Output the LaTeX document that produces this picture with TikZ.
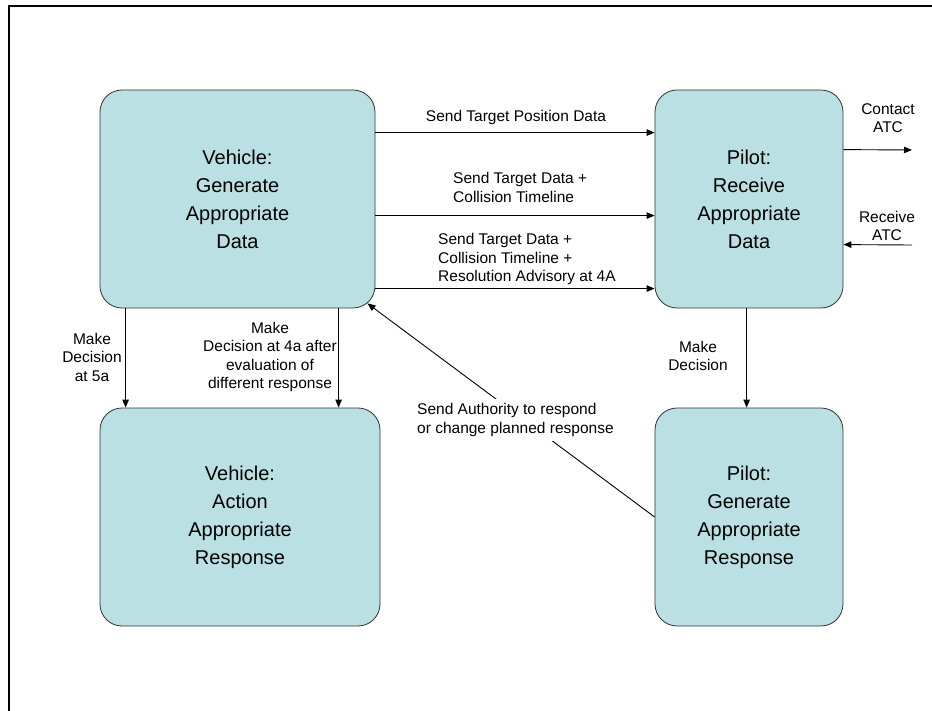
\documentclass[tikz,border=0pt]{standalone}
\usepackage{fontspec}
\setmainfont{Liberation Sans}
\usepackage{xcolor}
\usetikzlibrary{arrows.meta}
\definecolor{boxfill}{HTML}{BBE0E3}
\tikzset{
  stage/.style={draw=black!80, line width=0.8pt, fill=boxfill, rounded corners=22pt,
    minimum height=218pt, align=center, font=\fontsize{20}{28}\selectfont, inner sep=0pt},
  lbl/.style={font=\fontsize{15.5}{18.5}\selectfont, inner sep=0pt},
  flow/.style={-{Triangle[length=8pt,width=6.5pt]}, line width=0.9pt},
}

\begin{document}
\begin{tikzpicture}[x=1pt,y=-1pt]
	\useasboundingbox (0,0) rectangle (932,711);
	\draw[line width=2pt] (9,711) -- (9,6) -- (932,6);
	
	\node[stage, minimum width=275pt] (vgen) at (237.5,199) {Vehicle:\\Generate\\Appropriate\\Data};
	\node[stage, minimum width=188pt] (prec) at (749,199) {Pilot:\\Receive\\Appropriate\\Data};
	\node[stage, minimum width=280pt] (vact) at (240,517) {Vehicle:\\Action\\Appropriate\\Response};
	\node[stage, minimum width=188pt] (pgen) at (749,517) {Pilot:\\Generate\\Appropriate\\Response};
	
	\coordinate (atcout) at (912,150);
	\coordinate (atcin) at (912,245);
	
	\node[lbl] (posdata) at (516,117) {Send Target Position Data};
	\node[lbl, align=left, anchor=west] (tgtdata) at (453,187.5) {Send Target Data +\\Collision Timeline};
	\node[lbl, align=left, anchor=west] (advdata) at (438,259) {Send Target Data +\\Collision Timeline +\\Resolution Advisory at 4A};
	\node[lbl, align=center] (contact) at (888,118) {Contact\\ATC};
	\node[lbl, align=center] (receive) at (887,226) {Receive\\ATC};
	\node[lbl, align=center] (dec5a) at (92,357) {Make\\Decision\\at 5a};
	\node[lbl, align=center] (dec4a) at (270,357) {Make\\Decision at 4a after\\evaluation of\\different response};
	\node[lbl, align=center] (decp) at (698,356) {Make\\Decision};
	
	\draw[flow] ([yshift=-43pt]vgen.north east) -- ([yshift=-43pt]prec.north west);
	\draw[flow] ([yshift=-126pt]vgen.north east) -- ([yshift=-126pt]prec.north west);
	\draw[flow] ([yshift=-199pt]vgen.north east) -- ([yshift=-199pt]prec.north west);
	\draw[flow] ([yshift=-60pt]prec.north east) -- (atcout);
	\draw[flow] (atcin) -- ([yshift=-155pt]prec.north east);
	\draw[flow] ([xshift=26pt]vgen.south west) -- ([xshift=26pt]vact.north west);
	\draw[flow] ([xshift=239pt]vgen.south west) -- ([xshift=239pt]vact.north west);
	\draw[flow] ([xshift=92pt]prec.south west) -- ([xshift=92pt]pgen.north west);
	\draw[flow] (pgen.west) -- ([xshift=-8pt,yshift=5pt]vgen.south east);
	
	\node[lbl, align=left, anchor=west, fill=white, inner sep=5pt] (auth) at (412,420) {Send Authority to respond\\or change planned response};
\end{tikzpicture}
\end{document}
